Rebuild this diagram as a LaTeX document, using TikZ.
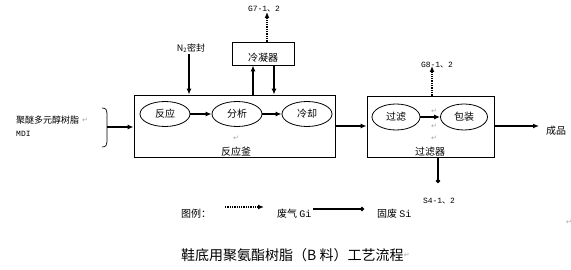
\documentclass[tikz,border=0pt]{standalone}
\usepackage{fontspec}
\setmainfont{Noto Sans CJK SC}
\newfontfamily\monof{Liberation Mono}
\newfontfamily\symf{DejaVu Sans}
\usetikzlibrary{arrows.meta,shapes.geometric}
\begin{document}
\begin{tikzpicture}[x=1pt,y=-1pt,
  box/.style={draw,line width=0.8pt,inner sep=0pt},
  proc/.style={ellipse,draw,line width=0.8pt,minimum width=50pt,minimum height=25pt,inner sep=0pt,font=\fontsize{10}{10}\selectfont},
  lab/.style={inner sep=0pt,font=\fontsize{10}{10}\selectfont},
  mlab/.style={inner sep=0pt,font=\monof\fontsize{8}{8}\selectfont},
  flow/.style={line width=1.8pt,-{Latex[length=6pt,width=5pt]}},
  gas/.style={line width=1.3pt,densely dotted,-{Latex[length=6pt,width=5pt]}},
  waste/.style={line width=1.5pt,-{Circle[length=4pt]}},
  pmark/.style={inner sep=0pt,text=gray!70,font=\symf\fontsize{7}{7}\selectfont}]
\useasboundingbox (0,0) rectangle (571,270);

% reactor
\node[box,minimum width=201pt,minimum height=62pt] (reactor) at (234.5,126) {};
\node[proc] (e1) at (165,114) {反应};
\node[proc] (e2) at (237,114) {分析};
\node[proc] (e3) at (307,114) {冷却};
\node[lab] (rlab) at (236,152) {反应釜};
\node[pmark] (pm1) at (236,138) {↵};
\draw[flow] (e1) -- (e2);
\draw[flow] (e2) -- (e3);

% condenser
\node[box,minimum width=62pt,minimum height=23pt] (cond) at (263,53.5) {};
\node[lab] (clab) at (263,58) {冷凝器};
\draw[flow] (reactor.north -| 253,0) -- (cond.south -| 253,0);
\draw[flow] (cond.south -| 274,0) -- (reactor.north -| 274,0);
\node[mlab] (g7) at (264,9) {G7-1{\rmfamily 、}2};
\coordinate (g7a) at (267,12);
\draw[gas] (cond.north -| g7a) -- (g7a);

% N2
\node[lab,font=\fontsize{9}{9}\selectfont] (n2) at (191,48) {N\textsubscript{2}密封};
\coordinate (n2s) at (189,54);
\draw[flow] (n2s) -- (reactor.north -| n2s);

% inputs
\node[lab,font=\fontsize{9}{9}\selectfont,anchor=west] (in1) at (16,120) {聚醚多元醇树脂};
\node[pmark,anchor=west] (pm2) at (82,120) {↵};
\node[mlab,anchor=west] (in2) at (16,134) {MDI};
\draw[line width=0.7pt] (102,108) .. controls (106,108) and (107,110) .. (107,113) -- (107,142) .. controls (107,145) and (106,147) .. (102,147);
\coordinate (br) at (107,127);
\draw[flow] (br) -- (reactor.west |- br);

% filter
\node[box,minimum width=127pt,minimum height=61pt] (filter) at (430.5,126.5) {};
\node[proc,minimum width=48pt,minimum height=26pt] (f1) at (396,117) {过滤};
\node[proc,minimum width=47pt,minimum height=26pt] (f2) at (464,117) {包装};
\draw[flow] (f1) -- (f2);
\node[lab] (flab) at (430,152) {过滤器};
\node[pmark] (pm3) at (434,111) {↵};
\node[pmark] (pm4) at (434,126) {↵};
\node[pmark] (pm5) at (434,138) {↵};
\draw[flow] (reactor.east) -- (filter.west |- reactor.east);

\coordinate (g8a) at (432,66);
\draw[gas] (filter.north -| g8a) -- (g8a);
\node[mlab] (g8) at (437,65) {G8-1{\rmfamily 、}2};

\coordinate (s4a) at (438,183);
\draw[waste] (filter.south -| s4a) -- (s4a);
\node[mlab] (s4) at (439,201) {S4-1{\rmfamily 、}2};

\coordinate (outa) at (539,126);
\draw[flow] (filter.east |- outa) -- (outa);
\node[lab] (prod) at (556,131) {成品};

% legend
\node[lab] (leg) at (196,214) {图例：};
\coordinate (la1) at (225,207);
\coordinate (la2) at (264,207);
\draw[gas] (la1) -- (la2);
\node[lab,anchor=west] (lg) at (277,214) {废气 {\monof Gi}};
\coordinate (lb1) at (313,209);
\coordinate (lb2) at (364,209);
\draw[waste] (lb1) -- (lb2);
\node[lab,anchor=west] (ls) at (377,214) {固废 {\monof Si}};
\node[pmark] (pm6) at (569,222) {↵};

% title
\node[lab,font=\fontsize{14}{14}\selectfont,anchor=west] (title) at (181,255) {鞋底用聚氨酯树脂（B 料）工艺流程};
\node[pmark,anchor=west] (pm7) at (title.east) {↵};
\end{tikzpicture}
\end{document}
